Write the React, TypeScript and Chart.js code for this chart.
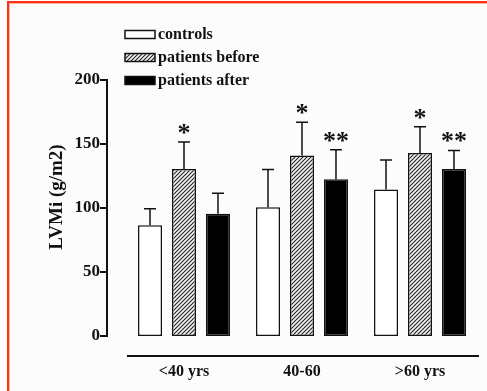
import React, { useEffect, useRef } from "react";
import { Chart, registerables } from "chart.js";

Chart.register(...registerables);

const categories = ["<40 yrs", "40-60", ">60 yrs"];
const seriesLabels = ["controls", "patients before", "patients after"];
const controls = [86.5, 100.5, 114.5];
const controlsErr = [13, 29.5, 23];
const before = [130.5, 141, 143];
const beforeErr = [21, 26, 20.5];
const after = [95.5, 122.5, 130.5];
const afterErr = [16, 23, 14.5];
const beforeMarks = ["*", "*", "*"];
const afterMarks = ["", "**", "**"];
const yTicks = [0, 50, 100, 150, 200];
const yTitle = "LVMi (g/m2)";

const FONT = "'Liberation Serif', 'DejaVu Serif', serif";

function makeHatch(): CanvasPattern | string {
  const s = 4;
  const c = document.createElement("canvas");
  c.width = s;
  c.height = s;
  const x = c.getContext("2d");
  if (!x) return "#999";
  x.fillStyle = "#f4f4f4";
  x.fillRect(0, 0, s, s);
  x.strokeStyle = "#222";
  x.lineWidth = 1.1;
  x.beginPath();
  x.moveTo(0, s);
  x.lineTo(s, 0);
  x.moveTo(-1, 1);
  x.lineTo(1, -1);
  x.moveTo(s - 1, s + 1);
  x.lineTo(s + 1, s - 1);
  x.stroke();
  const p = x.createPattern(c, "repeat");
  return p || "#999";
}

export default function App() {
  const ref = useRef<HTMLCanvasElement>(null);

  useEffect(() => {
    if (!ref.current) return;
    const hatch = makeHatch();
    const fills: any[] = ["#ffffff", hatch, "#000000"];
    const errs = [controlsErr, beforeErr, afterErr];
    const marks = [null, beforeMarks, afterMarks];

    const deco = {
      id: "deco",
      beforeDraw(chart: any) {
        const ctx = chart.ctx;
        ctx.save();
        ctx.fillStyle = "#ffffff";
        ctx.fillRect(0, 0, chart.width, chart.height);
        ctx.fillStyle = "#fcfcfc";
        ctx.fillRect(9, 3, chart.width - 9, chart.height - 3);
        ctx.fillStyle = "#ff3312";
        ctx.fillRect(7, 1, 2, chart.height - 1);
        ctx.fillRect(7, 1, chart.width - 7, 2);
        ctx.fillStyle = "#ffb0a0";
        ctx.fillRect(9, 3, 1, chart.height - 3);
        ctx.fillRect(9, 3, chart.width - 9, 1);
        ctx.restore();
      },
      afterDatasetsDraw(chart: any) {
        const ctx = chart.ctx;
        const ys = chart.scales.y;
        const area = chart.chartArea;
        ctx.save();
        // error bars and significance marks
        chart.data.datasets.forEach((ds: any, di: number) => {
          const meta = chart.getDatasetMeta(di);
          meta.data.forEach((bar: any, i: number) => {
            const v = ds.data[i];
            const top = ys.getPixelForValue(v + errs[di][i]);
            const y0 = ys.getPixelForValue(v);
            ctx.strokeStyle = "#111";
            ctx.lineWidth = 1.5;
            ctx.beginPath();
            ctx.moveTo(bar.x, y0);
            ctx.lineTo(bar.x, top);
            ctx.moveTo(bar.x - 6, top);
            ctx.lineTo(bar.x + 6, top);
            ctx.stroke();
            const m = marks[di];
            if (m && m[i]) {
              ctx.fillStyle = "#111";
              ctx.font = "bold 26px " + FONT;
              ctx.textAlign = "center";
              ctx.textBaseline = "alphabetic";
              ctx.fillText(m[i], bar.x, top - 1);
            }
          });
        });
        // y axis line & ticks
        const ax = area.left - 18;
        ctx.strokeStyle = "#111";
        ctx.lineWidth = 2;
        ctx.beginPath();
        ctx.moveTo(ax, ys.getPixelForValue(0));
        ctx.lineTo(ax, ys.getPixelForValue(200));
        yTicks.forEach((t) => {
          const py = ys.getPixelForValue(t);
          ctx.moveTo(ax - 7, py);
          ctx.lineTo(ax + 1, py);
        });
        ctx.stroke();
        // x axis line
        ctx.beginPath();
        ctx.moveTo(area.left + 2, area.bottom + 20);
        ctx.lineTo(area.right, area.bottom + 20);
        ctx.stroke();
        // y title
        ctx.save();
        ctx.translate(57, (ys.getPixelForValue(0) + ys.getPixelForValue(200)) / 2 - 11);
        ctx.rotate(-Math.PI / 2);
        ctx.fillStyle = "#111";
        ctx.font = "bold 19px " + FONT;
        ctx.textAlign = "center";
        ctx.textBaseline = "middle";
        ctx.fillText(yTitle, 0, 0);
        ctx.restore();
        // legend
        chart.data.datasets.forEach((ds: any, di: number) => {
          const cy = 34.5 + di * 23;
          ctx.fillStyle = fills[di];
          ctx.fillRect(125, cy - 4, 30, 8);
          ctx.strokeStyle = "#111";
          ctx.lineWidth = 1.5;
          ctx.strokeRect(125, cy - 4, 30, 8);
          ctx.fillStyle = "#111";
          ctx.font = "bold 16px " + FONT;
          ctx.textAlign = "left";
          ctx.textBaseline = "middle";
          ctx.fillText(ds.label, 158, cy);
        });
        ctx.restore();
      },
    };

    const chart = new Chart(ref.current, {
      type: "bar",
      data: {
        labels: categories,
        datasets: [controls, before, after].map((d, i) => ({
          label: seriesLabels[i],
          data: d,
          backgroundColor: fills[i],
          borderColor: "#111",
          borderWidth: 1.5,
          borderSkipped: false,
          categoryPercentage: 0.864,
          barPercentage: 0.706,
        })),
      },
      options: {
        animation: false,
        responsive: false,
        maintainAspectRatio: false,
        layout: { padding: { top: 80, right: 8, left: 0, bottom: 0 } },
        plugins: { legend: { display: false }, tooltip: { enabled: false } },
        scales: {
          x: {
            grid: { display: false, drawTicks: false },
            border: { display: false },
            ticks: {
              color: "#111",
              padding: 26,
              font: { family: FONT, size: 16, weight: "bold" },
            },
            afterFit: (s: any) => {
              s.height = 55;
            },
          },
          y: {
            min: 0,
            max: 200,
            grid: { display: false, drawTicks: false },
            border: { display: false },
            ticks: {
              stepSize: 50,
              color: "#111",
              padding: 25,
              font: { family: FONT, size: 17, weight: "bold" },
            },
            afterFit: (s: any) => {
              s.width = 125;
            },
          },
        },
      },
      plugins: [deco],
    } as any);
    return () => chart.destroy();
  }, []);

  return (
    <div style={{ position: "absolute", left: 0, top: 0, width: 487, height: 391 }}>
      <canvas ref={ref} width={487} height={391} style={{ width: 487, height: 391, display: "block" }} />
    </div>
  );
}
